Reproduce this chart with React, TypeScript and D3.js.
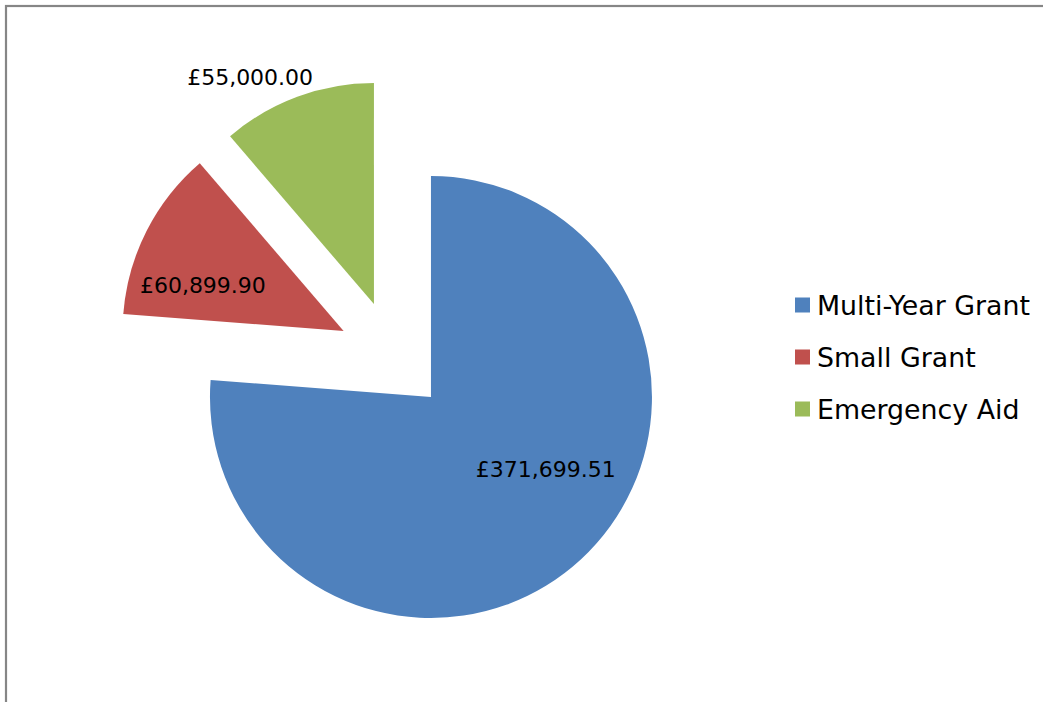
import React from "react";
import * as d3 from "d3";

const categories = ["Multi-Year Grant", "Small Grant", "Emergency Aid"];
const values = [371699.51, 60899.9, 55000.0];
const labels = ["£371,699.51", "£60,899.90", "£55,000.00"];
const colors = ["#4F81BD", "#C0504D", "#9BBB59"];

const W = 1043;
const H = 702;
const CX = 393.2;
const CY = 356.2;
const R = 221;
const EXPLODE = 55.6;
// label placement (angle in degrees clockwise from top, radius as fraction of R), relative to slice vertex
const labelAngle = [122.4, 288.1, 331.4];
const labelRadius = [0.615, 0.67, 1.17];
const FONT = "DejaVu Sans, Verdana, sans-serif";

export default function App() {
  const pie = d3.pie<number>().sort(null).value((d) => d);
  const arcs = pie(values);
  const arcGen = d3.arc<d3.PieArcDatum<number>>().innerRadius(0).outerRadius(R);
  const polar = (a: number, r: number) => [Math.sin(a) * r, -Math.cos(a) * r];

  return (
    <svg
      width={W}
      height={H}
      style={{ position: "absolute", left: 0, top: 0, background: "#fff" }}
    >
      <rect x={0} y={0} width={W} height={H} fill="#fff" />
      <rect x={6} y={6} width={W + 100} height={H + 100} fill="none" stroke="#868686" strokeWidth={2.2} />
      {arcs.map((a, i) => {
        const mid = (a.startAngle + a.endAngle) / 2;
        const [ox, oy] = polar(mid, EXPLODE);
        const vx = CX + ox;
        const vy = CY + oy;
        const [lx, ly] = polar((labelAngle[i] * Math.PI) / 180, labelRadius[i] * R);
        return (
          <g key={i}>
            <path d={arcGen(a) || ""} transform={`translate(${vx},${vy})`} fill={colors[i]} />
            <text
              x={vx + lx}
              y={vy + ly}
              textAnchor="middle"
              dominantBaseline="central"
              fontFamily={FONT}
              fontSize={22}
              fill="#000"
            >
              {labels[i]}
            </text>
          </g>
        );
      })}
      <g transform="translate(795,0)">
        {categories.map((c, i) => {
          const y = 305 + i * 52;
          return (
            <g key={c}>
              <rect x={0} y={y - 7.5} width={15} height={15} fill={colors[i]} />
              <text x={22} y={y} dominantBaseline="central" fontFamily={FONT} fontSize={26.8} fill="#000">
                {c}
              </text>
            </g>
          );
        })}
      </g>
    </svg>
  );
}
